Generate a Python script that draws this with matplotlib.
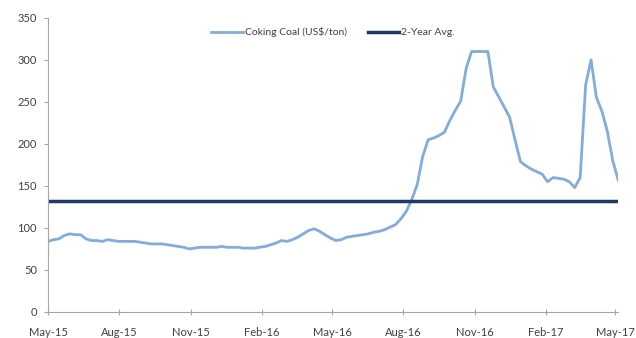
import pandas as pd
import matplotlib.pyplot as plt
import matplotlib.dates as mdates

plt.rcParams['font.family'] = ['Lato', 'DejaVu Sans']

# Weekly coking coal price, US$/ton, starting 1 May 2015
start = '2015-05-01'
coal_price = [
    84, 86, 87, 91, 93, 92, 92, 87, 85, 85,
    84, 86, 85, 84, 84, 84, 84, 83, 82, 81,
    81, 81, 80, 79, 78, 77, 75, 76, 77, 77,
    77, 77, 78, 77, 77, 77, 76, 76, 76, 77,
    78, 80, 82, 85, 84, 86, 89, 93, 97, 99,
    96, 92, 88, 85, 86, 89, 90, 91, 92, 93,
    95, 96, 98, 101, 104, 111, 120, 134, 152, 185,
    205, 207, 210, 214, 228, 240, 251, 290, 310, 310,
    310, 310, 268, 256, 244, 232, 205, 179, 174, 170,
    167, 164, 155, 160, 159, 158, 155, 148, 160, 270,
    300, 255, 239, 215, 180, 157,
]
two_year_avg = 132

tick_dates = ['2015-05-01', '2015-08-01', '2015-11-01', '2016-02-01', '2016-05-01',
              '2016-08-01', '2016-11-01', '2017-02-01', '2017-05-01']
y_ticks = [0, 50, 100, 150, 200, 250, 300, 350]

dates = pd.date_range(start, periods=len(coal_price), freq='7D')

fig = plt.figure(figsize=(6.36, 3.38), dpi=100)
ax = fig.add_axes([0.0755, 0.077, 0.8965, 0.87])

ax.plot(dates, coal_price, color='#82ACDC', lw=2, label='Coking Coal (US$/ton)')
ax.axhline(two_year_avg, color='#1F3864', lw=2.5, label='2-Year Avg.')

ax.set_ylim(0, 350)
ax.set_yticks(y_ticks)
ax.set_xlim(pd.Timestamp('2015-05-01'), pd.Timestamp('2017-05-05'))
ax.set_xticks(pd.to_datetime(tick_dates))
ax.xaxis.set_major_formatter(mdates.DateFormatter('%b-%y'))

for side in ['top', 'right']:
    ax.spines[side].set_visible(False)
for side in ['left', 'bottom']:
    ax.spines[side].set_color('#A6A6A6')
    ax.spines[side].set_linewidth(0.8)

ax.tick_params(axis='both', colors='#A6A6A6', labelcolor='#404040', labelsize=8, length=3)
ax.tick_params(axis='y', pad=5)
ax.tick_params(axis='x', direction='inout', length=5, pad=8)

ax.legend(loc='upper center', bbox_to_anchor=(0.5, 1.0), ncol=2, frameon=False,
          fontsize=7.5, handlelength=3, columnspacing=2, handletextpad=0.2,
          labelcolor='#404040')

plt.savefig('out.png', dpi=100)
